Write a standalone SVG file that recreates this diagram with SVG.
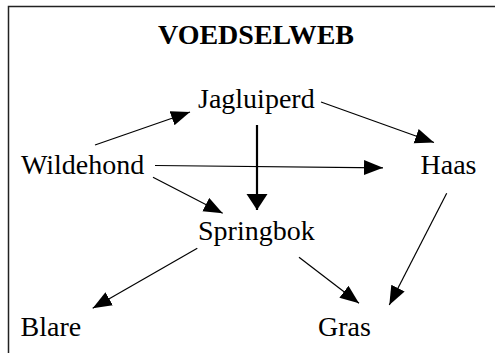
<svg xmlns="http://www.w3.org/2000/svg" width="495" height="353" viewBox="0 0 495 353">
<style>
.lbl{font-family:"Liberation Serif","Times New Roman",serif;font-size:28px;fill:#000}
.title{font-weight:bold}
.edge{stroke:#000;stroke-width:1.2;fill:none}
.thick{stroke-width:2.2}
</style>
<defs>
<marker id="ah" markerUnits="userSpaceOnUse" markerWidth="20" markerHeight="16" refX="19" refY="7.5" orient="auto" viewBox="0 0 20 16">
<path d="M0,0 L19,7.5 L0,15 Z" fill="#000"/>
</marker>
<marker id="ahb" markerUnits="userSpaceOnUse" markerWidth="18" markerHeight="22" refX="16" refY="10.5" orient="auto" viewBox="0 0 18 22">
<path d="M0,0 L16,10.5 L0,21 Z" fill="#000"/>
</marker>
</defs>
<rect x="8.5" y="6.5" width="500" height="400" fill="none" stroke="#222" stroke-width="1.5"/>
<text class="lbl title" x="158" y="43.5">VOEDSELWEB</text>
<g id="connectors">
<line class="edge" x1="95" y1="145" x2="190" y2="112" marker-end="url(#ah)"/>
<line class="edge" x1="321" y1="102" x2="434" y2="142.5" marker-end="url(#ah)"/>
<line class="edge thick" x1="257" y1="125" x2="257" y2="210" marker-end="url(#ahb)"/>
<line class="edge" x1="155" y1="165.5" x2="383" y2="167.8" marker-end="url(#ah)"/>
<line class="edge" x1="153" y1="177.3" x2="222.7" y2="213.3" marker-end="url(#ah)"/>
<line class="edge" x1="446.7" y1="193.3" x2="389.3" y2="305" marker-end="url(#ah)"/>
<line class="edge" x1="197.3" y1="248.3" x2="92.7" y2="308.3" marker-end="url(#ah)"/>
<line class="edge" x1="299" y1="257.3" x2="359" y2="303.3" marker-end="url(#ah)"/>
</g>
<g id="jagluiperd"><text class="lbl" x="198" y="107.5">Jagluiperd</text></g>
<g id="wildehond"><text class="lbl" x="21" y="174">Wildehond</text></g>
<g id="haas"><text class="lbl" x="420.5" y="173.5">Haas</text></g>
<g id="springbok"><text class="lbl" x="198" y="239.5">Springbok</text></g>
<g id="blare"><text class="lbl" x="20.5" y="336">Blare</text></g>
<g id="gras"><text class="lbl" x="318" y="336">Gras</text></g>
</svg>
